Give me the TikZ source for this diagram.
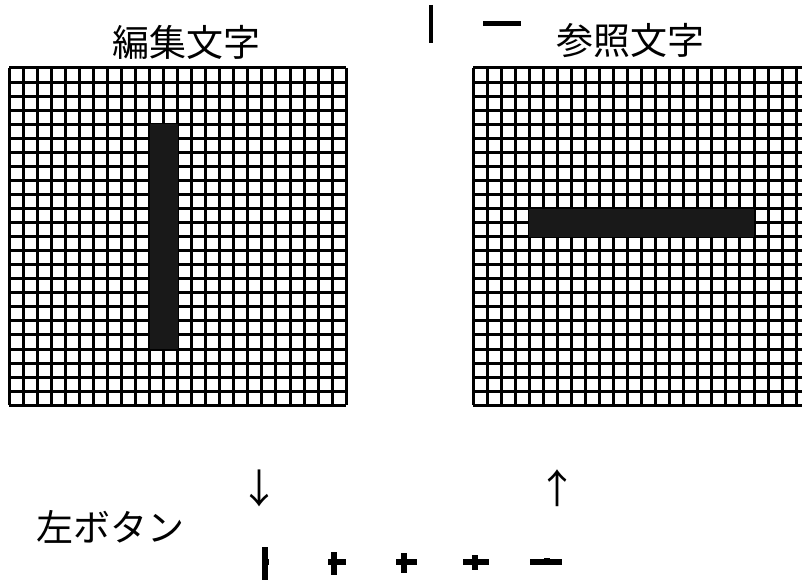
\documentclass[tikz,border=0pt]{standalone}
\usepackage{fontspec}
\newfontfamily\jpfont{Noto Sans CJK JP}

\begin{document}
\begin{tikzpicture}[
  x=1pt, y=-1pt,
  lbl/.style={font=\jpfont\fontsize{37}{37}\selectfont, inner sep=0pt},
  arrowlbl/.style={font=\jpfont\fontsize{40}{40}\selectfont, inner sep=0pt},
  gridline/.style={line width=3pt},
  bar/.style={fill=black!90},
  glyph/.style={line width=5.5pt}
]
  \useasboundingbox (0,0) rectangle (802,583);
  \def\cell{14.05}

  % Raster Editierzeichen (24x24), links
  \foreach \i in {0,...,24} {
    \draw[gridline] ({9+\i*\cell},68) -- ({9+\i*\cell},405.2);
    \draw[gridline] (9,{68+\i*\cell}) -- (346.2,{68+\i*\cell});
  }
  \fill[bar] (149.5,124.2) rectangle (177.6,349);

  % Raster Referenzzeichen (24x24), rechts, am Rand abgeschnitten
  \begin{scope}
    \clip (0,0) rectangle (802,583);
    \foreach \i in {0,...,24} {
      \draw[gridline] ({473+\i*\cell},68) -- ({473+\i*\cell},405.2);
      \draw[gridline] (473,{68+\i*\cell}) -- (810.2,{68+\i*\cell});
    }
    \fill[bar] (529.2,208.5) rectangle (754,236.6);
  \end{scope}

  % Titel
  \node[lbl] (edit) at (186,42) {編集文字};
  \node[lbl] (ref)  at (630,41) {参照文字};

  % kleine Zeichen oben
  \draw[glyph, line width=4pt] (431,5) -- (431,43);
  \draw[glyph] (483,23.5) -- (521,23.5);

  % Maustaste und Pfeile
  \node[lbl] (btn) at (110,527) {左ボタン};
  \node[arrowlbl] (down) at (259,488) {↓};
  \node[arrowlbl] (up)   at (557,488) {↑};

  % Zwischenstufen | -> -
  \draw[glyph] (265,547) -- (265,580); \draw[glyph] (263,562) -- (269,562);
  \draw[glyph] (334,552) -- (334,575); \draw[glyph] (328,562) -- (346,562);
  \draw[glyph] (404,553) -- (404,573); \draw[glyph] (396,562) -- (417,562);
  \draw[glyph] (475,555) -- (475,570); \draw[glyph] (463,562) -- (489,562);
  \draw[glyph] (547,558) -- (547,565); \draw[glyph] (530,562) -- (562,562);
\end{tikzpicture}
\end{document}
